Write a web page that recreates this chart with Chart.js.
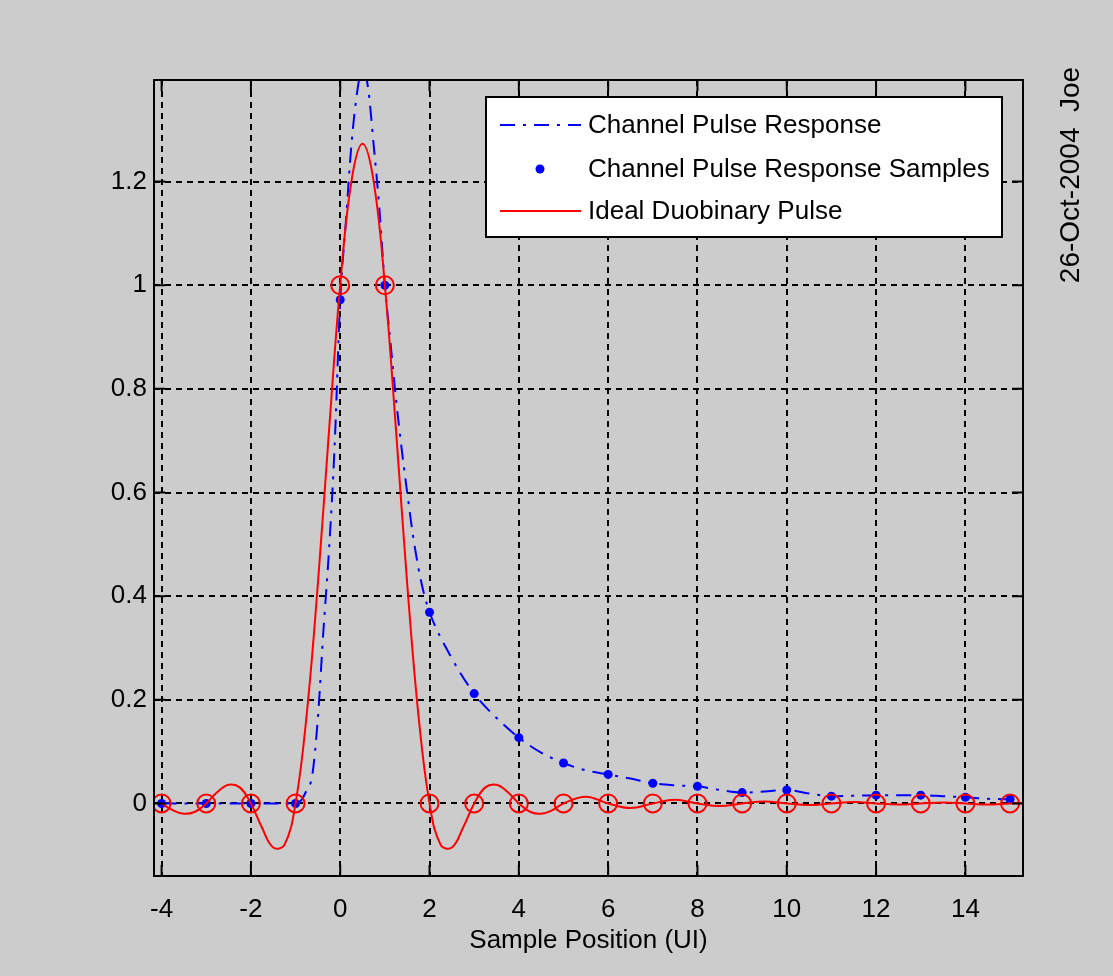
<!DOCTYPE html>
<html>
<head>
<meta charset="utf-8">
<script src="https://cdn.jsdelivr.net/npm/chart.js@4.4.0/dist/chart.umd.min.js"></script>
<style>
  body { margin: 0; background: #cccccc; }
</style>
</head>
<body>
<canvas id="myChart" width="1113" height="976"></canvas>
<script>
// respuesta del canal (linea punto-raya azul)
const blueX = [-4, -3, -2, -1, -0.875, -0.75, -0.625, -0.5, -0.375, -0.25, -0.125, 0,
  0.125, 0.25, 0.375, 0.5, 0.625, 0.75, 0.875, 1, 1.125, 1.25, 1.375, 1.5, 1.625, 1.75, 1.875, 2,
  2.5, 3, 3.5, 4, 4.5, 5, 5.5, 6, 6.5, 7, 7.5, 8, 8.5, 9, 9.5, 10, 10.5, 11, 11.5, 12, 12.5, 13, 13.5, 14, 14.5, 15]
const blueY = [0, 0, 0, 0, 0.006, 0.026, 0.055, 0.165, 0.335, 0.49, 0.69, 0.972,
  1.12, 1.27, 1.37, 1.42, 1.38, 1.27, 1.15, 1.0, 0.89, 0.78, 0.685, 0.60, 0.52, 0.455, 0.405, 0.369,
  0.28, 0.212, 0.165, 0.127, 0.098, 0.078, 0.064, 0.056, 0.048, 0.039, 0.035, 0.033, 0.026, 0.021, 0.023, 0.026, 0.019, 0.014, 0.015, 0.016, 0.016, 0.016, 0.014, 0.012, 0.009, 0.008]

// pulso duobinario ideal (linea roja)
const redX = [-4, -3.75, -3.5, -3.25, -3, -2.75, -2.5, -2.25, -2, -1.75, -1.5, -1.25, -1, -0.75, -0.5, -0.25,
  0, 0.25, 0.5, 0.75, 1, 1.25, 1.5, 1.75, 2, 2.25, 2.5, 2.75, 3, 3.25, 3.5, 3.75, 4, 4.25, 4.5, 4.75, 5,
  5.5, 6, 6.5, 7, 7.5, 8, 8.5, 9, 9.5, 10, 10.5, 11, 11.5, 12, 12.5, 13, 13.5, 14, 14.5, 15, 15.5]
const redY = [0, -0.013, -0.020, -0.016, 0, 0.022, 0.036, 0.031, 0, -0.047, -0.085, -0.080, 0, 0.172, 0.424, 0.720,
  1, 1.200, 1.273, 1.200, 1, 0.720, 0.424, 0.172, 0, -0.080, -0.085, -0.047, 0, 0.031, 0.036, 0.022, 0, -0.016, -0.020, -0.013, 0,
  0.013, 0, -0.009, 0, 0.007, 0, -0.005, 0, 0.004, 0, -0.003, 0, 0.003, 0, -0.002, 0, 0.002, 0, -0.002, 0, 0.001]

// muestras
const sampleX = [-4, -3, -2, -1, 0, 1, 2, 3, 4, 5, 6, 7, 8, 9, 10, 11, 12, 13, 14, 15]
const blueSamples = [0, 0, 0, 0, 0.972, 1.0, 0.369, 0.212, 0.127, 0.078, 0.056, 0.039, 0.033, 0.021, 0.026, 0.014, 0.016, 0.016, 0.012, 0.008]
const duoSamples = [0, 0, 0, 0, 1, 1, 0, 0, 0, 0, 0, 0, 0, 0, 0, 0, 0, 0, 0, 0]

const xTicks = [-4, -2, 0, 2, 4, 6, 8, 10, 12, 14]
const yTicks = [0, 0.2, 0.4, 0.6, 0.8, 1, 1.2]

const fuente = "'Liberation Sans', Arial, sans-serif"
const ctx = document.querySelector("#myChart")

const pares = (xs, ys) => xs.map((x, i) => ({ x: x, y: ys[i] }))

// caja, marcas interiores, leyenda y fecha
const marco = {
  id: "marco",
  afterDraw(chart) {
    const c = chart.ctx
    const a = chart.chartArea
    const sx = chart.scales.x
    const sy = chart.scales.y
    c.save()
    c.strokeStyle = "#000"
    c.lineWidth = 2
    c.setLineDash([])
    c.beginPath()
    xTicks.forEach(v => {
      const px = sx.getPixelForValue(v)
      c.moveTo(px, a.bottom); c.lineTo(px, a.bottom - 11)
      c.moveTo(px, a.top); c.lineTo(px, a.top + 11)
    })
    yTicks.forEach(v => {
      const py = sy.getPixelForValue(v)
      c.moveTo(a.left, py); c.lineTo(a.left + 11, py)
      c.moveTo(a.right, py); c.lineTo(a.right - 11, py)
    })
    c.stroke()
    c.strokeRect(a.left, a.top, a.right - a.left, a.bottom - a.top)

    // leyenda
    const lx = 486, ly = 97, lw = 516, lh = 140
    c.fillStyle = "#fff"
    c.fillRect(lx, ly, lw, lh)
    c.lineWidth = 2
    c.strokeRect(lx, ly, lw, lh)
    const ds = chart.data.datasets
    const filas = [125, 169, 211]
    c.font = "26px " + fuente
    c.textBaseline = "middle"
    filas.forEach((fy, i) => {
      const d = ds[i]
      if (d.showLine === false) {
        c.fillStyle = d.pointBackgroundColor
        c.beginPath()
        c.arc(540, fy, d.pointRadius, 0, Math.PI * 2)
        c.fill()
      } else {
        c.strokeStyle = d.borderColor
        c.lineWidth = d.borderWidth
        c.setLineDash(d.borderDash || [])
        c.beginPath()
        c.moveTo(500, fy); c.lineTo(581, fy)
        c.stroke()
        c.setLineDash([])
      }
      c.fillStyle = "#000"
      c.fillText(d.label, 588, fy + 1)
    })

    // fecha
    c.font = "28px " + fuente
    c.translate(1071, 175)
    c.rotate(-Math.PI / 2)
    c.textAlign = "center"
    c.fillText("26-Oct-2004  Joe", 0, 0)
    c.restore()
  }
}

new Chart(ctx, {
  type: "line",
  data: {
    datasets: [
      {
        label: "Channel Pulse Response",
        data: pares(blueX, blueY),
        borderColor: "#0000ff",
        borderWidth: 2,
        borderDash: [15, 8, 3, 8],
        pointRadius: 0,
        cubicInterpolationMode: "monotone",
        order: 4,
      },
      {
        label: "Channel Pulse Response Samples",
        data: pares(sampleX, blueSamples),
        showLine: false,
        pointRadius: 4.5,
        pointBackgroundColor: "#0000ff",
        pointBorderColor: "#0000ff",
        pointBorderWidth: 0,
        order: 3,
      },
      {
        label: "Ideal Duobinary Pulse",
        data: pares(redX, redY),
        borderColor: "#ff0000",
        borderWidth: 2,
        pointRadius: 0,
        tension: 0.4,
        order: 2,
      },
      {
        label: "Duobinary Samples",
        data: pares(sampleX, duoSamples),
        showLine: false,
        pointRadius: 9,
        pointBorderColor: "#ff0000",
        pointBackgroundColor: "rgba(0,0,0,0)",
        pointBorderWidth: 2,
        order: 1,
      },
    ],
  },
  options: {
    responsive: false,
    animation: false,
    devicePixelRatio: 1,
    layout: { padding: { left: 0, right: 90, top: 80, bottom: 0 } },
    plugins: { legend: { display: false }, tooltip: { enabled: false } },
    scales: {
      x: {
        type: "linear",
        min: -4.17,
        max: 15.29,
        afterBuildTicks: s => { s.ticks = xTicks.map(v => ({ value: v })) },
        afterFit: s => { s.height = 100 },
        grid: { color: "#000", lineWidth: 2, drawTicks: false },
        border: { display: false, dash: [6, 5] },
        ticks: { color: "#000", font: { family: fuente, size: 26 }, padding: 18, maxRotation: 0, autoSkip: false },
        title: { display: true, text: "Sample Position (UI)", color: "#000", font: { family: fuente, size: 26 }, padding: { top: 0, bottom: 20 } },
      },
      y: {
        type: "linear",
        min: -0.14,
        max: 1.396,
        afterBuildTicks: s => { s.ticks = yTicks.map(v => ({ value: v })) },
        afterFit: s => { s.width = 154 },
        grid: { color: "#000", lineWidth: 2, drawTicks: false },
        border: { display: false, dash: [6, 5] },
        ticks: { color: "#000", font: { family: fuente, size: 26 }, padding: 7, autoSkip: false,
          callback: v => String(Math.round(v * 10) / 10) },
      },
    },
  },
  plugins: [marco],
})
</script>
</body>
</html>
